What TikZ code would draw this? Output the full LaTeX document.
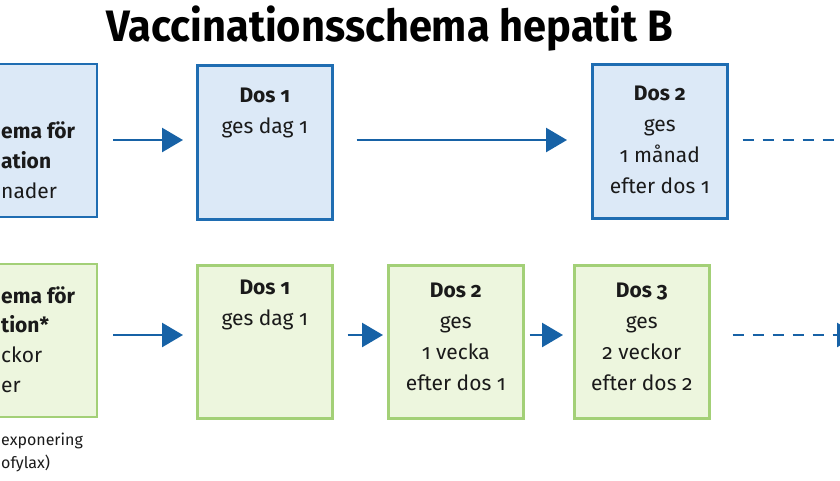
\documentclass[tikz,border=0pt]{standalone}
\usepackage{fontspec}
\setmainfont{Fira Sans}[Numbers=OldStyle]
\usetikzlibrary{arrows.meta}
\definecolor{bborder}{HTML}{1F6DB2}
\definecolor{bfill}{HTML}{DCE9F7}
\definecolor{gborder}{HTML}{A3D077}
\definecolor{gfill}{HTML}{EDF6DE}
\definecolor{arr}{HTML}{1762A6}
\definecolor{txt}{HTML}{1A1A1A}
\tikzset{
  bluebox/.style={draw=bborder, fill=bfill, line width=2.6pt, inner sep=0pt},
  greenbox/.style={draw=gborder, fill=gfill, line width=2.6pt, inner sep=0pt},
  boxtext/.style={text=txt, align=center, inner sep=0pt, anchor=north,
     font=\fontsize{21}{31}\selectfont},
  frag/.style={text=txt, inner sep=0pt, anchor=base west, font=\fontsize{21}{31}\selectfont},
  fragb/.style={frag, font=\fontsize{21}{31}\selectfont\bfseries},
  note/.style={text=txt, inner sep=0pt, anchor=base west, font=\fontsize{16}{22}\selectfont},
  flow/.style={draw=arr, line width=2.6pt, -{Triangle[length=21pt,width=24pt]}},
  dflow/.style={draw=arr, line width=2.6pt, dash pattern=on 11pt off 9pt},
}
\begin{document}
\begin{tikzpicture}[x=1pt,y=-1pt]
\path[use as bounding box] (0,0) rectangle (840,480);
\clip (0,0) rectangle (840,480);
% title
\node[text=black, inner sep=0pt, anchor=base] (title) at (390,41)
  {\fontsize{44}{44}\selectfont\bfseries\scalebox{0.945}[1]{Vaccinationsschema hepatit B}};
% top row
\path[bluebox] (-60,64) rectangle (97,217);
\coordinate (A) at (97,140);
\node[bluebox, minimum width=135pt, minimum height=154pt, anchor=north west] (B) at (196,64) {};
\node[bluebox, minimum width=135pt, minimum height=154pt, anchor=north west] (C) at (591,63) {};
\node[fragb] (a1) at (1,138) {ema för};
\node[fragb] (a2) at (1,168) {ation};
\node[frag] (a3) at (1,198) {nader};
\node[boxtext] (btext) at ([yshift=-24pt]B.north) {\textbf{Dos 1}\\ges dag 1};
\node[boxtext] (ctext) at ([yshift=-23pt]C.north) {\textbf{Dos 2}\\ges\\1 månad\\efter dos 1};
\draw[flow] ([xshift=16pt]A) -- ([xshift=-13pt]A -| B.west);
\draw[flow] ([xshift=23pt]A -| B.east) -- ([xshift=-24pt]A -| C.west);
\coordinate (cend) at (850,140);
\draw[dflow] ([xshift=14pt]A -| C.east) -- (cend);
% bottom row
\path[greenbox] (-60,264) rectangle (97,417);
\coordinate (D) at (97,335);
\node[greenbox, minimum width=135pt, minimum height=153pt, anchor=north west] (E) at (196,264) {};
\node[greenbox, minimum width=135pt, minimum height=153pt, anchor=north west] (F) at (387,264) {};
\node[greenbox, minimum width=135pt, minimum height=153pt, anchor=north west] (G) at (573,264) {};
\node[fragb] (d1) at (1,303) {ema för};
\node[fragb] (d2) at (1,332) {tion*};
\node[frag] (d3) at (1,362) {ckor};
\node[frag] (d4) at (1,392) {er};
\node[note] (n1) at (1,445) {exponering};
\node[note] (n2) at (1,468) {ofylax)};
\node[boxtext] (etext) at ([yshift=-16pt]E.north) {\textbf{Dos 1}\\ges dag 1};
\node[boxtext] (ftext) at ([yshift=-19pt]F.north) {\textbf{Dos 2}\\ges\\1 vecka\\efter dos 1};
\node[boxtext] (gtext) at ([yshift=-19pt]G.north) {\textbf{Dos 3}\\ges\\2 veckor\\efter dos 2};
\draw[flow] ([xshift=16pt]D) -- ([xshift=-13pt]D -| E.west);
\draw[flow] ([xshift=14pt]D -| E.east) -- ([xshift=-4pt]D -| F.west);
\draw[flow] ([xshift=5pt]D -| F.east) -- ([xshift=-10pt]D -| G.west);
\coordinate (gend) at (858,335);
\draw[dflow] ([xshift=22pt]D -| G.east) -- ([xshift=-21pt]gend);
\draw[flow] ([xshift=-23pt]gend) -- (gend);
\end{tikzpicture}
\end{document}
